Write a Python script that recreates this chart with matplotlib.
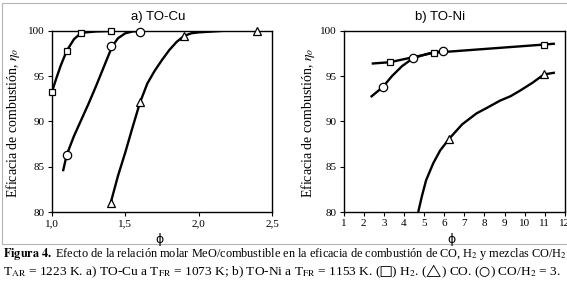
import matplotlib.pyplot as plt
from matplotlib.patches import Rectangle

plt.rcParams['font.family'] = ['Liberation Serif', 'DejaVu Serif']
plt.rcParams['mathtext.fontset'] = 'stix'

# ---------------- a) TO-Cu : markers (read from figure) ----------------
cu_h2_x = [1.0, 1.1, 1.2, 1.4]
cu_h2_y = [93.3, 97.8, 99.8, 100.0]
cu_mix_x = [1.1, 1.4, 1.6]
cu_mix_y = [86.3, 98.3, 99.9]
cu_co_x = [1.4, 1.6, 1.9, 2.4]
cu_co_y = [81.0, 92.1, 99.45, 100.0]

# fitted curves, points
cu_h2_cx = [1.0, 1.03, 1.06, 1.1, 1.15, 1.2, 1.3, 1.4]
cu_h2_cy = [93.3, 94.8, 96.2, 97.8, 99.1, 99.8, 99.95, 100.0]
cu_mix_cx = [1.075, 1.1, 1.15, 1.2, 1.25, 1.3, 1.35, 1.41, 1.45, 1.5, 1.55, 1.6]
cu_mix_cy = [84.5, 86.3, 88.4, 90.2, 92.0, 93.9, 95.9, 98.3, 99.2, 99.75, 99.95, 100.0]
cu_co_cx = [1.4, 1.45, 1.5, 1.55, 1.6, 1.65, 1.7, 1.75, 1.8, 1.85, 1.9, 1.95, 2.0,
            2.1, 2.2, 2.3, 2.4]
cu_co_cy = [81.0, 84.0, 86.6, 89.4, 92.1, 94.2, 95.6, 96.8, 97.9, 98.8, 99.45, 99.75,
            99.85, 99.95, 100.05, 100.05, 100.0]

# ---------------- b) TO-Ni ----------------
ni_h2_x = [3.3, 5.5, 10.95]
ni_h2_y = [96.55, 97.6, 98.5]
ni_mix_x = [2.95, 4.45, 5.95]
ni_mix_y = [93.8, 97.0, 97.8]
ni_co_x = [6.25, 10.95]
ni_co_y = [88.1, 95.2]

ni_h2_cx = [2.4, 3.3, 5.5, 10.95, 11.5]
ni_h2_cy = [96.4, 96.55, 97.6, 98.5, 98.6]
ni_mix_cx = [2.35, 2.95, 3.4, 3.9, 4.45, 5.2, 5.95]
ni_mix_cy = [92.7, 93.8, 95.0, 96.1, 97.0, 97.5, 97.8]
ni_co_cx = [4.71, 4.9, 5.1, 5.46, 5.8, 6.25, 6.9, 7.61, 8.2, 8.77, 9.3, 9.76, 10.4,
            10.95, 11.5]
ni_co_cy = [80.0, 81.8, 83.5, 85.4, 86.8, 88.1, 89.7, 90.9, 91.6, 92.3, 92.8, 93.4,
            94.3, 95.2, 95.4]

W, H = 567, 284
fig = plt.figure(figsize=(W / 100, H / 100), dpi=100)

# grey frame around the chart part
fig.add_artist(Rectangle((2 / W, 1 - 244 / H), 600 / W, 241 / H, transform=fig.transFigure,
                         fill=False, edgecolor='#b4b4b4', lw=0.8))


def ax_box(x0, x1, y0, y1):
    return [x0 / W, 1 - y1 / H, (x1 - x0) / W, (y1 - y0) / H]


def style(ax):
    for s in ax.spines.values():
        s.set_linewidth(1.0)
    ax.tick_params(direction='out', length=3, width=0.8, labelsize=8, pad=2)
    ax.set_ylim(80, 100)
    ax.set_yticks([80, 85, 90, 95, 100])
    ax.set_ylabel('Eficacia de combustión, $\\eta_o$', fontsize=10)


def series(ax, cx, cy, mx, my, marker, ms):
    ax.plot(cx, cy, color='black', lw=1.7, solid_capstyle='butt', zorder=2)
    ax.plot(mx, my, ls='none', marker=marker, ms=ms, mfc='white', mec='black', mew=0.9,
            zorder=3, clip_on=False)


ax1 = fig.add_axes(ax_box(52, 272, 31, 212))
style(ax1)
ax1.set_xlim(1.0, 2.5)
ax1.set_xticks([1.0, 1.5, 2.0, 2.5])
ax1.set_xticklabels(['1,0', '1,5', '2,0', '2,5'])
series(ax1, cu_h2_cx, cu_h2_cy, cu_h2_x, cu_h2_y, 's', 5)
series(ax1, cu_mix_cx, cu_mix_cy, cu_mix_x, cu_mix_y, 'o', 6)
series(ax1, cu_co_cx, cu_co_cy, cu_co_x, cu_co_y, '^', 5.5)
ax1.yaxis.set_label_coords(-0.136, 0.49)

ax2 = fig.add_axes(ax_box(343.5, 565, 31, 212))
style(ax2)
ax2.set_xlim(1, 12)
ax2.set_xticks(range(1, 13))
series(ax2, ni_h2_cx, ni_h2_cy, ni_h2_x, ni_h2_y, 's', 5)
series(ax2, ni_mix_cx, ni_mix_cy, ni_mix_x, ni_mix_y, 'o', 6)
series(ax2, ni_co_cx, ni_co_cy, ni_co_x, ni_co_y, '^', 5.5)
ax2.yaxis.set_label_coords(-0.12, 0.49)

fig.text(158 / W, 1 - 17 / H, 'a) TO-Cu', family='Liberation Sans', fontsize=9.5,
         ha='center', va='center')
fig.text(440 / W, 1 - 17 / H, 'b) TO-Ni', family='Liberation Sans', fontsize=9.5,
         ha='center', va='center')
fig.text(160 / W, 1 - 239 / H, 'ϕ', fontsize=9, ha='center', va='center', family=['DejaVu Sans'])
fig.text(452 / W, 1 - 239 / H, 'ϕ', fontsize=9, ha='center', va='center', family=['DejaVu Sans'])

fig.text(3 / W, 1 - 254.5 / H,
         r'$\mathbf{Figura\ 4.}$ Efecto de la relación molar MeO/combustible en la eficacia de '
         r'combustión de CO, H$_2$ y mezclas CO/H$_2$',
         fontsize=8.8, ha='left', va='center')
fig.text(3 / W, 1 - 271 / H,
         r'T$_{\mathrm{AR}}$ = 1223 K. a) TO-Cu a T$_{\mathrm{FR}}$ = 1073 K; b) TO-Ni a '
         r'T$_{\mathrm{FR}}$ = 1153 K. ($□$) H$_2$. ($\bigtriangleup$) CO. '
         r'($\bigcirc$) CO/H$_2$ = 3.',
         fontsize=9.6, ha='left', va='center')

fig.savefig('out.png', dpi=100)
